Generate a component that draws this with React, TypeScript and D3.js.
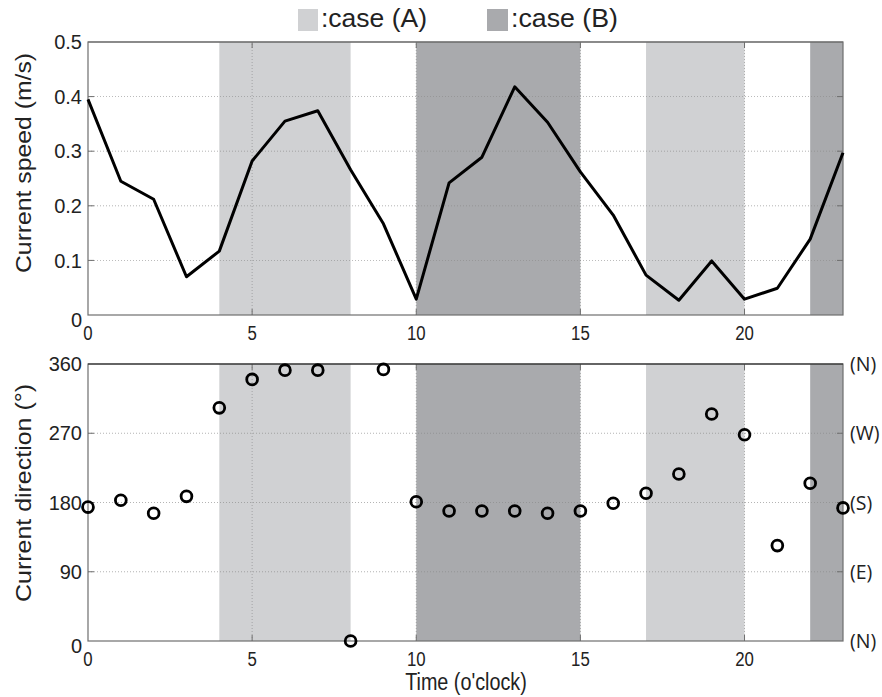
import React from "react";
import * as d3 from "d3";

const hours: number[] = Array.from({ length: 24 }, (_, i) => i);
const speed: number[] = [0.395, 0.245, 0.212, 0.07, 0.117, 0.282, 0.355, 0.374, 0.266, 0.167, 0.029, 0.242, 0.289, 0.418, 0.353, 0.262, 0.183, 0.073, 0.027, 0.099, 0.029, 0.049, 0.139, 0.297];
const direction: number[] = [174, 183, 166, 188, 303, 340, 352, 352, 0, 353, 181, 169, 169, 169, 166, 169, 179, 192, 217, 295, 268, 124, 205, 173];
const caseA: [number, number][] = [[4, 8], [17, 20]];
const caseB: [number, number][] = [[10, 15], [22, 23]];
const xTicks: number[] = [0, 5, 10, 15, 20];
const speedTicks: number[] = [0, 0.1, 0.2, 0.3, 0.4, 0.5];
const dirTicks: number[] = [0, 90, 180, 270, 360];
const dirLabels: string[] = ["(N)", "(E)", "(S)", "(W)", "(N)"];

const COLOR_A = "#d0d1d3";
const COLOR_B = "#a9aaad";
const AXIS = "#6e6e6e";
const sans = "'Liberation Sans', Arial, sans-serif";
const open = "'Open Sans', 'Noto Sans', sans-serif";

export default function App() {
  const x = d3.scaleLinear().domain([0, 23]).range([88, 843]);
  const yS = d3.scaleLinear().domain([0, 0.5]).range([315, 42]);
  const yD = d3.scaleLinear().domain([0, 360]).range([641, 364]);
  const line = d3.line<number>().x((_, i) => x(hours[i])).y((d) => yS(d));

  const panel = (y: d3.ScaleLinear<number, number>, ticks: number[], fmt: (v: number) => string, key: string, rightLabels?: string[]) => {
    const [y0, y1] = y.range();
    const gridTicks = ticks.filter((t) => t !== y.domain()[0] && t !== y.domain()[1]);
    return (
      <g key={key}>
        {caseA.map(([a, b], i) => (
          <rect key={"a" + i} x={x(a)} y={y1} width={x(b) - x(a)} height={y0 - y1} fill={COLOR_A} />
        ))}
        {caseB.map(([a, b], i) => (
          <rect key={"b" + i} x={x(a)} y={y1} width={x(b) - x(a)} height={y0 - y1} fill={COLOR_B} />
        ))}
        {gridTicks.map((t) => (
          <line key={"gy" + t} x1={x(0)} x2={x(23)} y1={y(t)} y2={y(t)} stroke="#8a8a8a" strokeWidth={0.8} strokeDasharray="1,2" opacity={0.8} />
        ))}
        {xTicks.filter((t) => t > 0).map((t) => (
          <line key={"gx" + t} x1={x(t)} x2={x(t)} y1={y0} y2={y1} stroke="#8a8a8a" strokeWidth={0.8} strokeDasharray="1,2" opacity={0.8} />
        ))}
        {gridTicks.map((t) => (
          <g key={"ty" + t}>
            <line x1={x(0)} x2={x(0) + 6} y1={y(t)} y2={y(t)} stroke={AXIS} strokeWidth={1} />
            <line x1={x(23)} x2={x(23) - 6} y1={y(t)} y2={y(t)} stroke={AXIS} strokeWidth={1} />
          </g>
        ))}
        {xTicks.filter((t) => t > 0).map((t) => (
          <g key={"tx" + t}>
            <line x1={x(t)} x2={x(t)} y1={y0} y2={y0 - 6} stroke={AXIS} strokeWidth={1} />
            <line x1={x(t)} x2={x(t)} y1={y1} y2={y1 + 6} stroke={AXIS} strokeWidth={1} />
          </g>
        ))}
        <rect x={x(0)} y={y1} width={x(23) - x(0)} height={y0 - y1} fill="none" stroke={AXIS} strokeWidth={1.2} />
        <line x1={x(0)} x2={x(23)} y1={y1} y2={y1} stroke={key === "dir" ? "#222" : AXIS} strokeWidth={1.2} />
        {ticks.map((t) => (
          <text key={"yl" + t} x={82} y={y(t)} dy={t === y.domain()[0] ? "0.6em" : "0.36em"} textAnchor="end" fontFamily={sans} fontSize={20} fill="#222">
            {fmt(t)}
          </text>
        ))}
        {xTicks.map((t) => (
          <text key={"xl" + t} transform={`translate(${x(t)},${y0 + 25}) scale(0.8,1)`} textAnchor="middle" fontFamily={sans} fontSize={21} fill="#222">
            {t}
          </text>
        ))}
        {rightLabels &&
          ticks.map((t, i) => (
            <text key={"rl" + t} x={850} y={y(t)} dy="0.36em" textAnchor="start" fontFamily={open} fontSize={19.5} fill="#222">
              {rightLabels[i]}
            </text>
          ))}
      </g>
    );
  };

  return (
    <svg width={882} height={697} style={{ position: "absolute", left: 0, top: 0, background: "#fff" }}>
      <rect x={298} y={9} width={20} height={22} fill={COLOR_A} />
      <text x={321} y={27} fontFamily={sans} fontSize={25} textLength={106} lengthAdjust="spacingAndGlyphs" fill="#222">:case (A)</text>
      <rect x={487} y={9} width={21} height={22} fill={COLOR_B} />
      <text x={511} y={27} fontFamily={sans} fontSize={25} textLength={107} lengthAdjust="spacingAndGlyphs" fill="#222">:case (B)</text>

      {panel(yS, speedTicks, (v) => (v === 0 ? "0" : d3.format(".1f")(v)), "speed")}
      <path d={line(speed) || ""} fill="none" stroke="#000" strokeWidth={3} strokeLinejoin="round" />

      {panel(yD, dirTicks, (v) => String(v), "dir", dirLabels)}
      {direction.map((d, i) => (
        <circle key={i} cx={x(hours[i])} cy={yD(d)} r={5.4} fill="none" stroke="#000" strokeWidth={2.8} />
      ))}

      <text transform={`translate(31,163) rotate(-90)`} textAnchor="middle" fontFamily={sans} fontSize={22} textLength={220} lengthAdjust="spacingAndGlyphs" fill="#222">
        Current speed (m/s)
      </text>
      <text transform={`translate(31,493) rotate(-90)`} textAnchor="middle" fontFamily={sans} fontSize={22} textLength={218} lengthAdjust="spacingAndGlyphs" fill="#222">
        Current direction (°)
      </text>
      <text transform="translate(466,690) scale(0.86,1)" textAnchor="middle" fontFamily={sans} fontSize={23} fill="#222">
        Time (o'clock)
      </text>
    </svg>
  );
}
